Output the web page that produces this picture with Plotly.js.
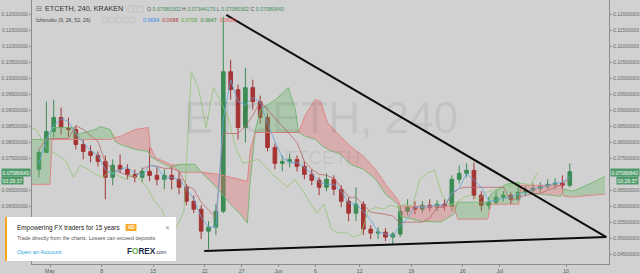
<!DOCTYPE html>
<html><head><meta charset="utf-8">
<script src="https://cdn.plot.ly/plotly-3.0.1.min.js"></script>
<style>html,body{margin:0;padding:0;background:#d1d1d1;overflow:hidden}#c{width:640px;height:274px}</style>
</head><body><div id="c"></div>
<script>
// ---- candles (daily) ----
const candleDates = ['2017-04-29 12:00','2017-04-30 12:00',
'2017-05-01 12:00','2017-05-02 12:00','2017-05-03 12:00','2017-05-04 12:00','2017-05-05 12:00','2017-05-06 12:00','2017-05-07 12:00','2017-05-08 12:00','2017-05-09 12:00','2017-05-10 12:00',
'2017-05-11 12:00','2017-05-12 12:00','2017-05-13 12:00','2017-05-14 12:00','2017-05-15 12:00','2017-05-16 12:00','2017-05-17 12:00','2017-05-18 12:00','2017-05-19 12:00','2017-05-20 12:00',
'2017-05-21 12:00','2017-05-22 12:00','2017-05-23 12:00','2017-05-24 12:00','2017-05-25 12:00','2017-05-26 12:00','2017-05-27 12:00','2017-05-28 12:00','2017-05-29 12:00','2017-05-30 12:00','2017-05-31 12:00',
'2017-06-01 12:00','2017-06-02 12:00','2017-06-03 12:00','2017-06-04 12:00','2017-06-05 12:00','2017-06-06 12:00','2017-06-07 12:00','2017-06-08 12:00','2017-06-09 12:00','2017-06-10 12:00',
'2017-06-11 12:00','2017-06-12 12:00','2017-06-13 12:00','2017-06-14 12:00','2017-06-15 12:00','2017-06-16 12:00','2017-06-17 12:00','2017-06-18 12:00','2017-06-19 12:00','2017-06-20 12:00',
'2017-06-21 12:00','2017-06-22 12:00','2017-06-23 12:00','2017-06-24 12:00','2017-06-25 12:00','2017-06-26 12:00','2017-06-27 12:00','2017-06-28 12:00','2017-06-29 12:00','2017-06-30 12:00',
'2017-07-01 12:00','2017-07-02 12:00','2017-07-03 12:00','2017-07-04 12:00','2017-07-05 12:00','2017-07-06 12:00','2017-07-07 12:00','2017-07-08 12:00','2017-07-09 12:00','2017-07-10 12:00'];
const openP = [.07154,.07683,
.08337,.08772,.08461,.08399,.07932,.07714,.07590,.07403,.06905,.07279,
.07154,.06998,.06905,.07092,.06967,.06843,.06967,.06843,.06594,.06158,
.05909,.05224,.05349,.05847,.10204,.09644,.08461,.09706,.09270,.08772,.07839,
.07341,.07403,.07465,.07247,.06998,.06812,.06594,.06843,.06532,.06158,
.05785,.06065,.05287,.05162,.05193,.05038,.05131,.05847,.05971,.05909,
.06034,.05971,.06065,.06002,.06843,.07030,.07123,.06345,.06034,.06127,
.06283,.06345,.06220,.06438,.06500,.06563,.06625,.06687,.06718,.06656];
const highP = [.07777,.09270,
.09333,.09084,.08772,.08524,.08088,.07901,.07714,.07590,.07465,.07621,
.07310,.07154,.07216,.07839,.07216,.07154,.07279,.07092,.06687,.06345,
.06034,.05536,.06065,.11916,.10578,.09800,.10329,.09955,.09457,.08897,.07963,
.07590,.07652,.07590,.07403,.07154,.06905,.07030,.06967,.06656,.06283,
.06594,.06158,.05411,.05349,.05318,.05193,.06034,.06220,.06158,.06158,
.06220,.06189,.06220,.06967,.07279,.07341,.07372,.06469,.06283,.06469,
.06469,.06438,.06656,.06625,.06718,.06749,.06843,.06874,.06967,.07344];
const lowP = [.06905,.07714,
.08150,.08243,.08181,.07777,.07465,.07372,.07247,.06220,.06656,.07030,
.06843,.06749,.06749,.06781,.06656,.06532,.06532,.06376,.06034,.05785,
.04975,.04664,.05100,.05785,.09333,.08088,.07994,.09021,.08586,.07714,.07154,
.07092,.07216,.07092,.06843,.06656,.06345,.06469,.06345,.05971,.05536,
.05536,.05100,.04975,.04975,.04913,.04789,.05038,.05722,.05753,.05785,
.05847,.05847,.05878,.05847,.06718,.06905,.06220,.05847,.05909,.06034,
.06158,.06065,.06158,.06314,.06407,.06438,.06532,.06532,.06532,.06594];
const closeP = [.07683,.08337,
.08772,.08461,.08399,.07932,.07714,.07590,.07403,.06905,.07279,.07154,
.06998,.06905,.07092,.06967,.06843,.06967,.06843,.06594,.06158,.05909,
.05224,.05349,.05847,.10204,.09644,.08461,.09706,.09270,.08772,.07839,.07341,
.07403,.07465,.07247,.06998,.06812,.06594,.06843,.06532,.06158,.05785,
.06065,.05287,.05162,.05193,.05038,.05131,.05847,.05971,.05909,.06034,
.05971,.06065,.06002,.06843,.07030,.07123,.06345,.06034,.06127,.06283,
.06345,.06220,.06438,.06500,.06563,.06625,.06687,.06718,.06656,.07081];
// ---- Ichimoku lines ----
const conversionLine = [.07341,.08088,
.08524,.08741,.08648,.08274,.07994,.07745,.07590,.07154,.06998,.07154,
.07216,.07030,.06967,.07279,.07247,.06874,.06905,.06843,.06563,.06220,
.05660,.05349,.05349,.08710,.09955,.09270,.09177,.09395,.09270,.08586,.08026,
.07528,.07372,.07372,.07216,.07030,.06749,.06687,.06687,.06469,.06096,
.06065,.05847,.05567,.05193,.05131,.05069,.05411,.05629,.05971,.05971,
.06002,.06034,.06034,.06407,.06563,.07030,.06812,.06594,.06158,.06189,
.06251,.06283,.06376,.06407,.06532,.06594,.06656,.06718,.06749,.06936];
const baseLine = [.07777,.08088,
.08119,.08119,.08119,.08524,.08399,.08212,.08026,.07372,.07154,.07061,
.06967,.06905,.07154,.07279,.07247,.07185,.07185,.07092,.06656,.06532,
.06127,.05878,.05660,.08274,.08274,.08274,.08493,.08835,.09270,.09021,.08741,
.08524,.08274,.07994,.07403,.07154,.06998,.06967,.06874,.06563,.06283,
.06283,.06034,.05816,.05785,.05753,.05691,.05473,.05504,.05504,.05504,
.05629,.05971,.05971,.06376,.06563,.06594,.06594,.06594,.06594,.06594,
.06594,.06158,.06283,.06345,.06376,.06407,.06500,.06594,.06687,.06880];
const laggingShiftHours = 104; // 26 periods x 4h
const cloudDates = ['2017-04-28 13:18','2017-05-01 00:00','2017-05-01 06:31','2017-05-04 03:00','2017-05-04 16:02','2017-05-07 02:44','2017-05-07 19:02','2017-05-09 03:39','2017-05-09 19:57','2017-05-10 12:16',
'2017-05-12 13:10','2017-05-14 07:34','2017-05-14 14:05','2017-05-15 06:23','2017-05-17 07:18','2017-05-18 15:55','2017-05-20 16:50','2017-05-21 09:07','2017-05-23 19:49','2017-05-25 10:58',
'2017-05-26 19:34','2017-05-27 18:23','2017-05-28 04:10','2017-05-28 20:28','2017-05-29 12:47','2017-05-31 13:42','2017-06-02 08:05','2017-06-03 06:55','2017-06-03 16:42','2017-06-04 15:32',
'2017-06-06 00:07','2017-06-06 16:26','2017-06-07 15:16','2017-06-09 09:39','2017-06-10 18:16','2017-06-12 12:39','2017-06-14 03:47','2017-06-15 12:23','2017-06-17 03:32','2017-06-17 13:18',
'2017-06-20 06:31','2017-06-22 23:44','2017-06-24 18:07','2017-06-25 07:10','2017-06-29 09:00','2017-06-29 18:47','2017-07-01 19:42','2017-07-03 14:05','2017-07-03 20:37','2017-07-06 13:50',
'2017-07-09 07:02','2017-07-09 16:50','2017-07-10 22:10','2017-07-13 08:53','2017-07-15 06:31'];
const spanA = [.08088,.08088,.08461,.08461,.08243,.08399,.08493,.08399,.08026,.07932,
.07777,.07714,.07559,.07465,.07216,.07310,.07310,.07092,.06532,.06065,
.05753,.05473,.06843,.08399,.09021,.09333,.09706,.09021,.08306,.08181,
.08088,.07932,.07777,.07621,.07310,.07154,.06843,.06376,.06065,.05691,
.05536,.05504,.05753,.06127,.06127,.06376,.06687,.06749,.06438,.06376,
.06314,.06532,.06470,.06718,.06936];
const spanB = [.06687,.06687,.08088,.08088,.08088,.08088,.08088,.08088,.08150,.08181,
.08399,.08461,.07870,.07528,.07310,.07061,.07061,.07061,.06998,.06905,
.06843,.06781,.07777,.08306,.08306,.08306,.08306,.08306,.08306,.08866,
.09333,.09270,.08617,.08181,.07870,.07559,.07154,.06687,.06220,.06002,
.06002,.06002,.06002,.05598,.05598,.06065,.06065,.06065,.06656,.06656,
.06656,.06314,.06290,.06345,.06376];
// ---- drawn trend lines ----
const trendTopX = ['2017-05-24 21:50','2017-07-15 11:00'];
const trendTopY = [0.11978,0.05038];
const trendLowX = ['2017-05-21 22:00','2017-07-15 11:00'];
const trendLowY = [0.04602,0.05038];
// ---- axes (labels hidden behind the price tag / ad box are left out) ----
const xTickVals = ['2017-05-01','2017-05-08','2017-05-15','2017-05-22','2017-05-27','2017-06-01','2017-06-06','2017-06-12','2017-06-19','2017-06-26','2017-07-01','2017-07-10'];
const xTickText = ['May','8','15','22','27','Jun','6','12','19','26','Jul','10'];
const yTicksRight = [0.045,0.05,0.055,0.06,0.065,0.075,0.08,0.085,0.09,0.095,0.10,0.105,0.11,0.115,0.12];
const yTicksLeft = [0.06,0.065,0.075,0.08,0.085,0.09,0.095,0.10,0.105,0.11,0.115,0.12];
const yRange = [0.041972,0.124451];
const xRange = ['2017-04-28 13:18','2017-07-15 19:40'];

function shiftDate(s,h){const m=s.match(/(\d+)-(\d+)-(\d+) (\d+):(\d+)/);const t=Date.UTC(+m[1],m[2]-1,+m[3],+m[4],+m[5])+h*3600e3;return new Date(t).toISOString().slice(0,16).replace('T',' ');}
const lagDates = candleDates.map(d=>shiftDate(d,-laggingShiftHours));
const maxAB = spanA.map((a,i)=>Math.max(a,spanB[i]));

const X0=32,W=577,H=264;
const px=x=>(x-X0)/W, py=y=>(H-y)/H;
const FF='Liberation Sans, Arial, sans-serif';

const traces=[
 {x:cloudDates,y:spanB,mode:'lines',line:{width:0},hoverinfo:'skip'},
 {x:cloudDates,y:maxAB,mode:'lines',line:{width:0},fill:'tonexty',fillcolor:'rgba(96,178,96,0.33)',hoverinfo:'skip'},
 {x:cloudDates,y:spanA,mode:'lines',line:{width:0},hoverinfo:'skip'},
 {x:cloudDates,y:maxAB,mode:'lines',line:{width:0},fill:'tonexty',fillcolor:'rgba(226,112,112,0.36)',hoverinfo:'skip'},
 {x:cloudDates,y:spanA,mode:'lines',line:{width:0.9,color:'#72b872'}},
 {x:cloudDates,y:spanB,mode:'lines',line:{width:0.9,color:'#e08080'}},
 {x:lagDates,y:closeP,mode:'lines',line:{width:0.8,color:'#93c474'}},
 {x:candleDates,y:baseLine,mode:'lines',line:{width:0.8,color:'#b86a6a'}},
 {x:candleDates,y:conversionLine,mode:'lines',line:{width:0.8,color:'#5ea4dc'}},
 {type:'candlestick',x:candleDates,open:openP,high:highP,low:lowP,close:closeP,
  increasing:{line:{color:'#3d8c55',width:1},fillcolor:'#3d8c55'},
  decreasing:{line:{color:'#a53434',width:1},fillcolor:'#a53434'},whiskerwidth:0},
 {x:trendTopX,y:trendTopY,mode:'lines',line:{width:2,color:'#0d0d0d'}},
 {x:trendLowX,y:trendLowY,mode:'lines',line:{width:2,color:'#0d0d0d'}},
 {x:[xRange[0]],y:[yRange[0]],yaxis:'y2',mode:'markers',marker:{size:0,opacity:0},hoverinfo:'skip'}
];
traces.forEach(t=>t.showlegend=false);

const ann=[];
function T(x,y,text,size,color,opts){ann.push(Object.assign({xref:'paper',yref:'paper',x:px(x),y:py(y),text:text,showarrow:false,xanchor:'left',yanchor:'middle',font:{family:FF,size:size,color:color}},opts||{}));}
// watermark
T(321,117,'ETCETH, 240',44,'rgba(0,0,0,0.075)',{xanchor:'center'});
T(322,157,'ETCETH',19,'rgba(0,0,0,0.075)',{xanchor:'center'});
// header
T(34,9,'⊟',7,'#666');
T(43,9,'ETCETH, 240, KRAKEN',7.2,'#333');
const g='#3f8f5a';
T(145,9,'O <span style="color:'+g+'">0.07080302</span> H <span style="color:'+g+'">0.07344170</span> L <span style="color:'+g+'">0.07080302</span> C <span style="color:'+g+'">0.07080640</span>',5.3,'#555');
T(34,20,'Ichimoku (9, 26, 52, 26)',5.2,'#444');
T(141,20,'<span style="color:#2e8fe6">0.0694</span>  <span style="color:#b03c3c">0.0688</span>  <span style="color:#5aa83c">0.0708</span>  <span style="color:#2e8a2e">0.0647</span>  <span style="color:#e85050">0.0629</span>',5.3,'#444');
// price labels
const pg='#4e9a68';
T(609.5,172.8,'0.07080640',5,'#fff',{bgcolor:pg,borderpad:0.5});
T(638.5,180,'03:29:37',5,'#fff',{bgcolor:pg,borderpad:0.5,xanchor:'right'});
T(0.5,172.8,'0.07080640',5,'#fff',{bgcolor:pg,borderpad:0.5});
T(0.5,180,'03:29:37',5,'#fff',{bgcolor:pg,borderpad:0.5});
// ad
T(15,227.5,'Empowering FX traders for 15 years',6.4,'#222');
T(131,227.5,'<b>AD</b>',4.6,'#fff',{xanchor:'center'});
T(167,227,'×',8,'#888',{xanchor:'center'});
T(15,238,'Trade directly from the charts. Losses can exceed deposits',5.3,'#555');
T(15,251.5,'Open an Account',5.8,'#2a9fd8');
T(125,251.5,'<b>F<span style="color:#5cb04a">O</span>REX</b><span style="font-size:5px">.com</span>',8.2,'#1c2b4a');

const shapes=[
 {type:'rect',xref:'paper',yref:'paper',x0:px(5),x1:px(176),y0:py(261),y1:py(217),fillcolor:'#ffffff',line:{width:0},layer:'above'},
 {type:'rect',xref:'paper',yref:'paper',x0:px(5),x1:px(7),y0:py(261),y1:py(217),fillcolor:'#f5a623',line:{width:0},layer:'above'},
 {type:'rect',xref:'paper',yref:'paper',x0:px(125.5),x1:px(136.5),y0:py(231),y1:py(224),fillcolor:'#f5ad2a',line:{width:0},layer:'above'},
 {type:'rect',xref:'paper',yref:'paper',x0:px(128),x1:px(134),y0:py(12),y1:py(6),line:{width:0.6,color:'#b8b8b8'}},
 {type:'rect',xref:'paper',yref:'paper',x0:px(137),x1:px(143),y0:py(12),y1:py(6),line:{width:0.6,color:'#b8b8b8'}}
];
[102,109,116,123,130].forEach(x=>shapes.push({type:'rect',xref:'paper',yref:'paper',x0:px(x),x1:px(x+5),y0:py(22.5),y1:py(17.5),line:{width:0.6,color:'#bcbcbc'}}));

const axY={range:yRange,tickformat:'.8f',showgrid:false,zeroline:false,showline:true,linecolor:'#8c8c8c',linewidth:1,ticks:'outside',ticklen:2,tickcolor:'#8c8c8c',tickfont:{family:FF,size:5,color:'#6a6a6a'},fixedrange:true};
const layout={width:640,height:274,margin:{l:X0,r:31,t:0,b:274-H,pad:0},paper_bgcolor:'#d1d1d1',plot_bgcolor:'#d1d1d1',
 xaxis:{type:'date',range:xRange,tickvals:xTickVals,ticktext:xTickText,showgrid:false,zeroline:false,showline:true,linecolor:'#8c8c8c',ticks:'outside',ticklen:1.5,tickcolor:'#8c8c8c',tickfont:{family:FF,size:5.2,color:'#5a5a5a'},rangeslider:{visible:false},fixedrange:true},
 yaxis:Object.assign({side:'left',tickvals:yTicksLeft},axY),
 yaxis2:Object.assign({side:'right',overlaying:'y',tickvals:yTicksRight},axY),
 annotations:ann,shapes:shapes,showlegend:false,hovermode:false};
Plotly.newPlot('c',traces,layout,{displayModeBar:false,staticPlot:true});
</script></body></html>
